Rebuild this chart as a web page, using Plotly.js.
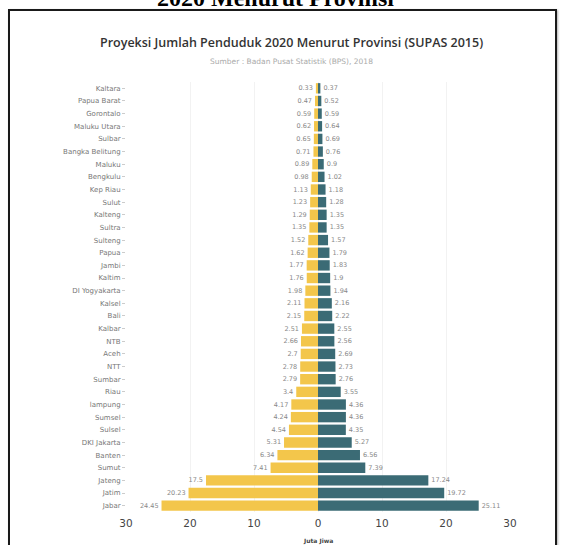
<!DOCTYPE html>
<html>
<head>
<meta charset="utf-8">
<script src="https://cdn.plot.ly/plotly-3.0.1.min.js"></script>
<style>
html,body{margin:0;padding:0;background:#fff;}
#wrap{position:relative;width:563px;height:545px;overflow:hidden;}
#chart{position:absolute;left:0;top:0;width:563px;height:545px;}
#frame{position:absolute;left:8px;top:9px;width:545px;height:560px;border:2px solid #1a1a1a;pointer-events:none;box-shadow:1px 1px 2px rgba(0,0,0,0.3);}
</style>
</head>
<body>
<div id="wrap">
<div id="chart"></div>
<div id="frame"></div>
</div>
<script>
const provinces = ["Kaltara","Papua Barat","Gorontalo","Maluku Utara","Sulbar","Bangka Belitung","Maluku","Bengkulu","Kep Riau","Sulut","Kalteng","Sultra","Sulteng","Papua","Jambi","Kaltim","DI Yogyakarta","Kalsel","Bali","Kalbar","NTB","Aceh","NTT","Sumbar","Riau","lampung","Sumsel","Sulsel","DKI Jakarta","Banten","Sumut","Jateng","Jatim","Jabar"];
const leftValues = [0.33,0.47,0.59,0.62,0.65,0.71,0.89,0.98,1.13,1.23,1.29,1.35,1.52,1.62,1.77,1.76,1.98,2.11,2.15,2.51,2.66,2.7,2.78,2.79,3.4,4.17,4.24,4.54,5.31,6.34,7.41,17.5,20.23,24.45];
const rightValues = [0.37,0.52,0.59,0.64,0.69,0.76,0.9,1.02,1.18,1.28,1.35,1.35,1.57,1.79,1.83,1.9,1.94,2.16,2.22,2.55,2.56,2.69,2.73,2.76,3.55,4.36,4.36,4.35,5.27,6.56,7.39,17.24,19.72,25.11];
const tickValues = [-30,-20,-10,0,10,20,30];
const tickLabels = ["30","20","10","0","10","20","30"];

const labelFont = {family:"DejaVu Sans", size:6.5, color:"#888"};
const traces = [
  {type:"bar", orientation:"h", y:provinces, x:leftValues.map(v=>-v),
   text:leftValues.map(String), textposition:"outside", cliponaxis:false,
   textfont:labelFont, marker:{color:"#f3c64b"}, hoverinfo:"skip"},
  {type:"bar", orientation:"h", y:provinces, x:rightValues,
   text:rightValues.map(String), textposition:"outside", cliponaxis:false,
   textfont:labelFont, marker:{color:"#3b6b75"}, hoverinfo:"skip"}
];
const layout = {
  width:563, height:545,
  margin:{l:126, r:53, t:82, b:33},
  paper_bgcolor:"#fff", plot_bgcolor:"#fff",
  barmode:"overlay", bargap:0.18, showlegend:false,
  xaxis:{range:[-30,30], tickvals:tickValues, ticktext:tickLabels, zeroline:false,
         showgrid:true, gridcolor:"#f2f2f2", tickfont:{family:"DejaVu Sans", size:10.5, color:"#444"},
         ticks:"", ticklabelstandoff:3, fixedrange:true},
  yaxis:{autorange:"reversed", type:"category", showgrid:false, ticks:"outside", ticklen:3,
         tickcolor:"#ccc", tickfont:{family:"DejaVu Sans", size:7, color:"#777"}, fixedrange:true, automargin:false},
  annotations:[
    {xref:"paper", yref:"paper", x:0.39, y:1.195, yanchor:"middle", showarrow:false,
     text:"<b>2020 Menurut Provinsi</b>", font:{family:"Liberation Serif", size:24, color:"#000"}},
    {xref:"paper", yref:"paper", x:0.43, y:1, yshift:40, yanchor:"middle", showarrow:false,
     text:"Proyeksi Jumlah Penduduk 2020 Menurut Provinsi (SUPAS 2015)", font:{family:"Open Sans", size:12.5, weight:600, color:"#333"}},
    {xref:"paper", yref:"paper", x:0.43, y:1, yshift:21, yanchor:"middle", showarrow:false,
     text:"Sumber : Badan Pusat Statistik (BPS), 2018", font:{family:"DejaVu Sans", size:7.5, color:"#aaa"}},
    {xref:"x", yref:"paper", x:0, y:0, yshift:-29, yanchor:"middle", showarrow:false,
     text:"<b>Juta Jiwa</b>", font:{family:"DejaVu Sans", size:6, color:"#444"}}
  ]
};
Plotly.newPlot("chart", traces, layout, {displayModeBar:false, staticPlot:true});
</script>
</body>
</html>
